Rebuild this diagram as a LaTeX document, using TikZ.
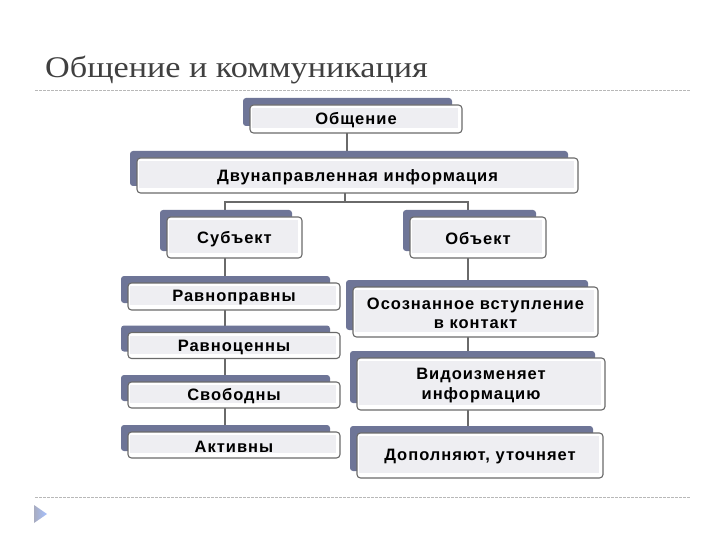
\documentclass[tikz,border=0pt]{standalone}
\usepackage{fontspec}
\setmainfont{Liberation Serif}
\newfontfamily\boxfont[LetterSpace=6]{Liberation Sans}
\usetikzlibrary{calc}
\pgfdeclarelayer{background}
\pgfsetlayers{background,main}
\definecolor{backc}{HTML}{6E7597}
\definecolor{frameline}{HTML}{6A6A6A}
\definecolor{innerc}{HTML}{EEEEF2}
\definecolor{connc}{HTML}{6A6A6A}
\definecolor{titlec}{HTML}{404040}
\definecolor{dashc}{HTML}{B8B8B8}
\tikzset{
  frontbox/.style={draw=frameline, line width=1.1pt, fill=white, rounded corners=3.5pt,
    inner sep=0pt},
  boxtext/.style={align=center, inner sep=0pt, text=black,
    font=\boxfont\bfseries\fontsize{16.5}{19.5}\selectfont},
  conn/.style={draw=connc, line width=1.4pt},
  sep/.style={draw=dashc, line width=0.8pt, dash pattern=on 2.5pt off 1.5pt},
}
% name, cx, cy, w, h, text
\newcommand\slatebox[6]{%
  \fill[backc, rounded corners=3pt] (#2-#4/2-7,#3-#5/2-7) rectangle (#2+#4/2-10,#3+#5/2-7);
  \node[frontbox, minimum width=#4, minimum height=#5] (#1) at (#2,#3) {};
  \fill[innerc] (#2-#4/2+2,#3-#5/2+3) rectangle (#2+#4/2-4,#3+#5/2-5);
  \node[boxtext] at (#2,#3+1.5) {#6};
}
\begin{document}
\begin{tikzpicture}[x=1pt, y=-1pt]
\useasboundingbox (0,0) rectangle (720,540);
\begin{pgfonlayer}{background}
\fill[white] (0,0) rectangle (720,540);
\end{pgfonlayer}

% title
\node[anchor=base west, inner sep=0pt, text=titlec, font=\fontsize{30}{34}\selectfont] (title) at (45,78)
  {\scalebox{1.14}[1]{Общение и коммуникация}};
\draw[sep] (35,90) -- (690,90);
\draw[sep] (35,497) -- (690,497);
\shade[left color=backc!60, right color=cyan!30!blue!35] (34,505) -- (47,514) -- (34,523) -- cycle;

% boxes
\slatebox{obsh}{356}{119}{212}{28}{Общение}
\slatebox{dvun}{357.5}{175.5}{441}{35}{Двунаправленная информация}
\slatebox{subj}{234.5}{237.5}{135}{41}{Субъект}
\slatebox{obj}{478}{237.5}{136}{41}{Объект}
\slatebox{ravnopr}{234}{296.5}{212}{27}{Равноправны}
\slatebox{ravnoc}{234}{345.5}{212}{26}{Равноценны}
\slatebox{svob}{234}{395}{212}{26}{Свободны}
\slatebox{aktiv}{234}{445}{212}{26}{Активны}
\slatebox{osozn}{475.5}{312}{245}{50}{Осознанное вступление\\в контакт}
\slatebox{vidoiz}{481}{384}{248}{52}{Видоизменяет\\информацию}
\slatebox{dopoln}{480}{455.5}{246}{45}{Дополняют, уточняет}

% connectors
\coordinate (hub) at (345,202);
\begin{pgfonlayer}{background}
\draw[conn] ([xshift=-9pt]obsh.center) -- ([xshift=-9pt]obsh.center |- dvun.center);
\draw[conn] ([xshift=-12.5pt]dvun.center) -- (hub);
\draw[conn] ([xshift=-9.5pt]subj.center) |- (hub) -| ([xshift=-10pt]obj.center);
\draw[conn] ([xshift=-9.5pt]subj.center) -- ([xshift=-9.5pt]subj.center |- aktiv.center);
\draw[conn] ([xshift=-10pt]obj.center) -- ([xshift=-10pt]obj.center |- dopoln.center);
\end{pgfonlayer}
\end{tikzpicture}
\end{document}
